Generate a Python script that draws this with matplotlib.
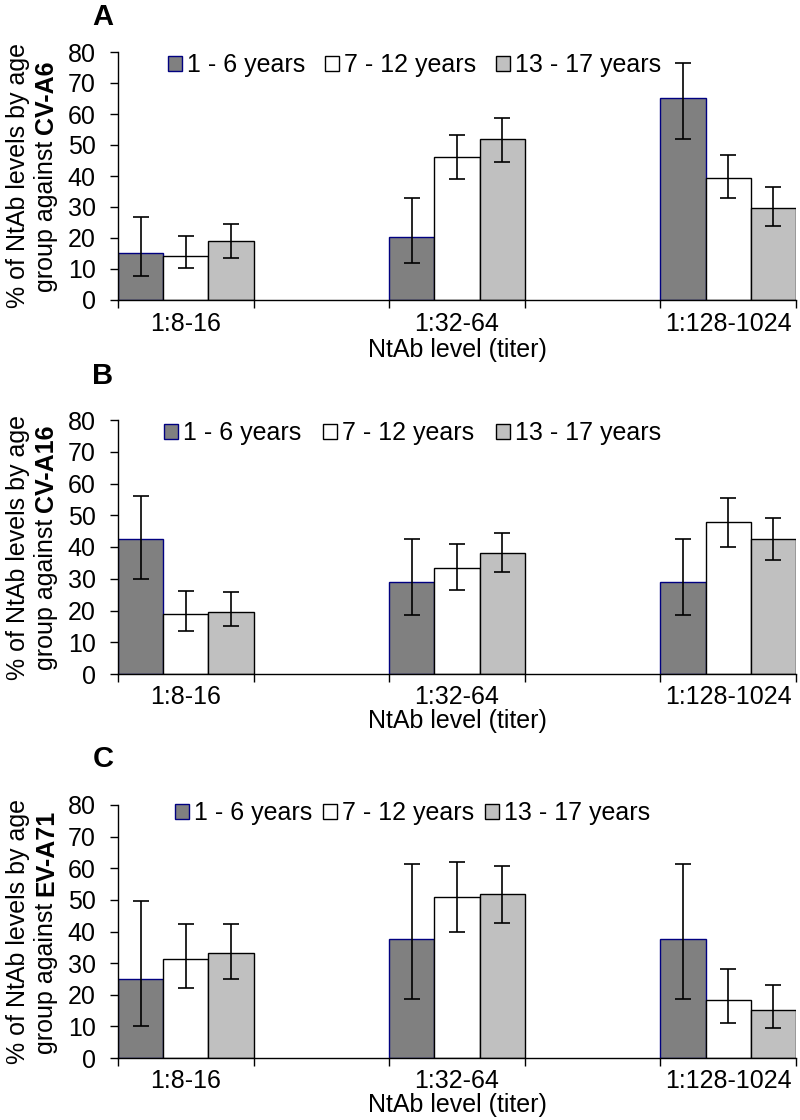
import numpy as np
import matplotlib
matplotlib.use("Agg")
import matplotlib.pyplot as plt

plt.rcParams['font.family'] = ['Liberation Sans', 'DejaVu Sans']
plt.rcParams['font.size'] = 18

categories = ["1:8-16", "1:32-64", "1:128-1024"]
age_groups = ["1 - 6 years", "7 - 12 years", "13 - 17 years"]
viruses = ["CV-A6", "CV-A16", "EV-A71"]
panel_letters = ["A", "B", "C"]

# % per titer category, one row per age group; lo/hi = ends of the error bars
a6_values = [[15.0, 20.4, 65.1], [14.3, 46.2, 39.5], [19.0, 51.8, 29.8]]
a6_lo = [[7.7, 11.8, 51.8], [10.2, 39.0, 32.8], [13.5, 44.6, 24.0]]
a6_hi = [[26.7, 32.8, 76.5], [20.6, 53.2, 46.8], [24.6, 58.6, 36.4]]

a16_values = [[42.5, 29.1, 29.1], [19.0, 33.5, 48.0], [19.5, 38.0, 42.5]]
a16_lo = [[30.0, 18.6, 18.6], [13.6, 26.5, 40.1], [15.0, 32.0, 35.9]]
a16_hi = [[56.1, 42.5, 42.5], [26.0, 41.0, 55.5], [25.7, 44.5, 49.0]]

a71_values = [[25.0, 37.7, 37.7], [31.3, 50.8, 18.2], [33.2, 51.8, 15.2]]
a71_lo = [[10.0, 18.7, 18.7], [22.1, 39.7, 11.0], [25.0, 42.7, 9.6]]
a71_hi = [[49.8, 61.4, 61.4], [42.3, 61.9, 28.1], [42.3, 60.8, 23.0]]

panels = [(a6_values, a6_lo, a6_hi), (a16_values, a16_lo, a16_hi), (a71_values, a71_lo, a71_hi)]

fill_colors = ["#808080", "#ffffff", "#c0c0c0"]
edge_colors = ["#000080", "#000000", "#000000"]

W, H = 800, 1120
fig = plt.figure(figsize=(W / 100, H / 100), dpi=100)

# axes boxes in pixels: (top, bottom)
ax_pix = [(52, 300), (420, 674), (805, 1058)]
ax_left, ax_right = 118, 796
legend_pos = [(0.074, 0.948, 0.8), (0.068, 0.949, 0.88), (0.084, 0.968, 0.45)]
tick_pad = [9, 8, 8]
xlabel_y = [-0.202, -0.185, -0.186]
letter_base = [25, 384, 767]

group_x = np.array([0, 2, 4])
bw = 1 / 3

renderer = fig.canvas.get_renderer()

def text_width(s, **kw):
    t = fig.text(0, 0, s, **kw)
    w = t.get_window_extent(renderer).width
    t.remove()
    return w

for i, (vals, lo, hi) in enumerate(panels):
    top, bot = ax_pix[i]
    ax = fig.add_axes([ax_left / W, 1 - bot / H, (ax_right - ax_left) / W, (bot - top) / H])
    for j in range(3):
        v = np.array(vals[j])
        yerr = [v - np.array(lo[j]), np.array(hi[j]) - v]
        ax.bar(group_x + (j - 1) * bw, v, width=bw, color=fill_colors[j],
               edgecolor=edge_colors[j], linewidth=1.0, label=age_groups[j],
               yerr=yerr, error_kw=dict(ecolor="black", elinewidth=1.2, capsize=5.5, capthick=1.2))
    ax.set_xlim(-0.5, 4.5)
    ax.set_ylim(0, 80)
    ax.set_yticks(np.arange(0, 81, 10))
    ax.set_xticks(group_x)
    ax.set_xticklabels(categories)
    ax.set_xticks(np.arange(-0.5, 4.6, 1), minor=True)
    ax.tick_params(axis="x", which="major", length=0, pad=tick_pad[i])
    ax.tick_params(axis="x", which="minor", length=6, width=1, direction="out")
    ax.tick_params(axis="y", length=6, width=1, direction="out", pad=10)
    for s in ["top", "right"]:
        ax.spines[s].set_visible(False)
    for s in ["left", "bottom"]:
        ax.spines[s].set_linewidth(1.0)

    lx, ly, cs = legend_pos[i]
    ax.legend(loc="center left", bbox_to_anchor=(lx, ly), ncol=3, frameon=False,
              handlelength=0.55, handleheight=0.55, handletextpad=0.2,
              columnspacing=cs, borderpad=0, borderaxespad=0)

    ax.text(0.5, xlabel_y[i], "NtAb level (titer)", transform=ax.transAxes,
            ha="center", va="center")

    # two-line y label, second line partly bold
    yc = H - (top + bot) / 2
    fig.text(25 / W, yc / H, "% of NtAb levels by age", rotation=90,
             rotation_mode="anchor", ha="center", va="baseline")
    w_reg = text_width("group against")
    w_sp = text_width("a a") - text_width("aa")
    w_bold = text_width(viruses[i], fontweight="bold")
    start = yc - (w_reg + w_sp + w_bold) / 2
    fig.text(53 / W, start / H, "group against", rotation=90,
             rotation_mode="anchor", ha="left", va="baseline")
    fig.text(53 / W, (start + w_reg + w_sp) / H, viruses[i], rotation=90,
             rotation_mode="anchor", ha="left", va="baseline", fontweight="bold")

    fig.text(103 / W, 1 - letter_base[i] / H, panel_letters[i], ha="center",
             va="baseline", fontweight="bold", fontsize=21)

fig.savefig("out.png", dpi=100)
